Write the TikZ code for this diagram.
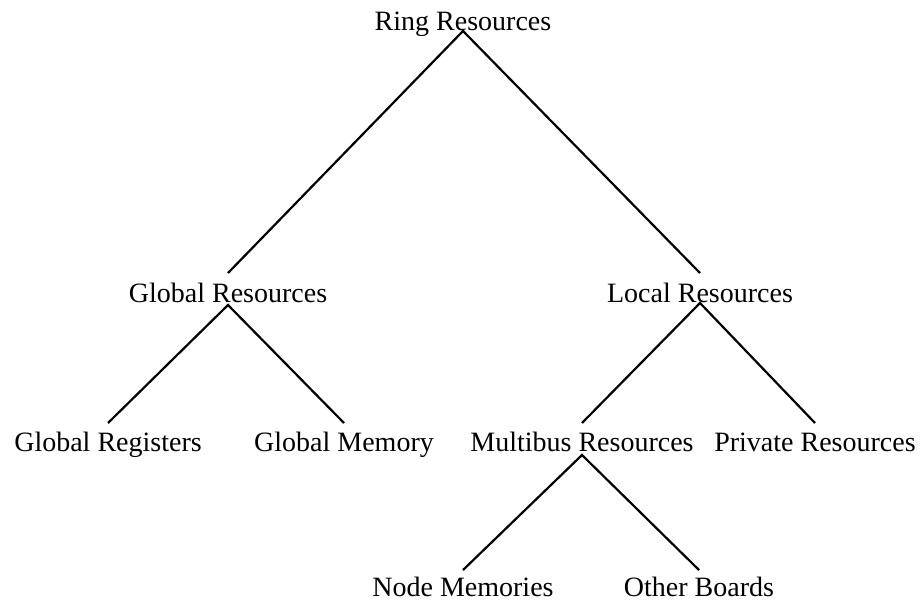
\documentclass[tikz,border=0pt]{standalone}
\usepackage{fontspec}
\setmainfont{Liberation Serif}
\usepackage{tikz}

\tikzset{
  res/.style={anchor=base, inner sep=0pt, font=\fontsize{28}{32}\selectfont},
  branch/.style={line width=2.2pt},
}

\begin{document}
\begin{tikzpicture}[x=1pt,y=-1pt]
                \useasboundingbox (0,0) rectangle (924,605);
                \node[res] (ring) at (463,30) {Ring Resources};
                \node[res] (glob) at ([shift={(-235,272)}]ring.base) {Global Resources};
                \node[res] (loc) at ([shift={(237,272)}]ring.base) {Local Resources};
                \node[res] (greg) at ([shift={(-120,149)}]glob.base) {Global Registers};
                \node[res] (gmem) at ([shift={(116,149)}]glob.base) {Global Memory};
                \node[res] (multi) at ([shift={(-118,149)}]loc.base) {Multibus Resources};
                \node[res] (priv) at ([shift={(115,149)}]loc.base) {Private Resources};
                \node[res] (nmem) at ([shift={(-119,145)}]multi.base) {Node Memories};
                \node[res] (other) at ([shift={(117,145)}]multi.base) {Other Boards};
                \draw[branch] ([yshift=29pt]glob.base) -- ([yshift=-1pt]ring.base) -- ([yshift=29pt]loc.base);
                \draw[branch] ([yshift=28pt]greg.base) -- ([yshift=-3pt]glob.base) -- ([yshift=28pt]gmem.base);
                \draw[branch] ([yshift=28pt]multi.base) -- ([yshift=-1pt]loc.base) -- ([yshift=28pt]priv.base);
                \draw[branch] ([yshift=26pt]nmem.base) -- ([yshift=-4pt]multi.base) -- ([yshift=26pt]other.base);
            \end{tikzpicture}
\end{document}
